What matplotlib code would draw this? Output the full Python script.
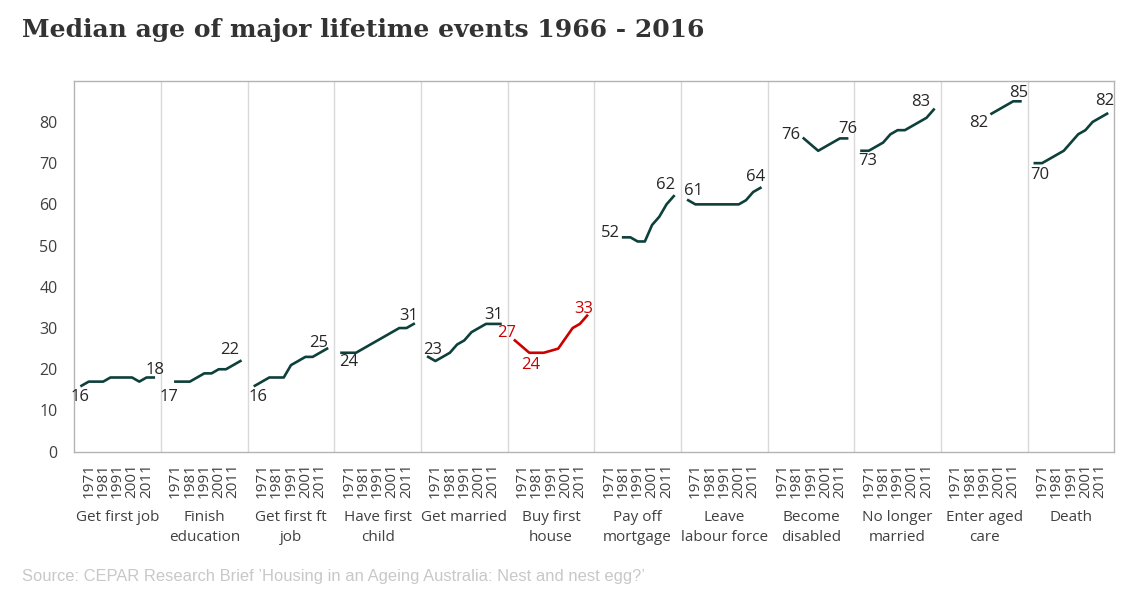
import numpy as np
import matplotlib.pyplot as plt

plt.rcParams['font.family'] = ['Open Sans', 'DejaVu Sans']

# Datos
years = [1966, 1971, 1976, 1981, 1986, 1991, 1996, 2001, 2006, 2011, 2016]
events = ["Get first job", "Finish\neducation", "Get first ft\njob", "Have first\nchild",
          "Get married", "Buy first\nhouse", "Pay off\nmortgage", "Leave\nlabour force",
          "Become\ndisabled", "No longer\nmarried", "Enter aged\ncare", "Death"]
nan = np.nan
get_first_job = [16, 17, 17, 17, 18, 18, 18, 18, 17, 18, 18]
finish_education = [nan, 17, 17, 17, 18, 19, 19, 20, 20, 21, 22]
get_first_ft_job = [16, 17, 18, 18, 18, 21, 22, 23, 23, 24, 25]
have_first_child = [24, 24, 24, 25, 26, 27, 28, 29, 30, 30, 31]
get_married = [23, 22, 23, 24, 26, 27, 29, 30, 31, 31, 31]
buy_first_house = [27, 25.5, 24, 24, 24, 24.5, 25, 27.5, 30, 31, 33]
pay_off_mortgage = [nan, nan, nan, 52, 52, 51, 51, 55, 57, 60, 62]
leave_labour_force = [61, 60, 60, 60, 60, 60, 60, 60, 61, 63, 64]
become_disabled = [nan, nan, nan, nan, 76, 74.5, 73, 74, 75, 76, 76]
no_longer_married = [73, 73, 74, 75, 77, 78, 78, 79, 80, 81, 83]
enter_aged_care = [nan, nan, nan, nan, nan, nan, 82, 83, 84, 85, 85]
death = [70, 70, 71, 72, 73, 75, 77, 78, 80, 81, 82]

series = [get_first_job, finish_education, get_first_ft_job, have_first_child,
          get_married, buy_first_house, pay_off_mortgage, leave_labour_force,
          become_disabled, no_longer_married, enter_aged_care, death]

# puntos con etiqueta (indice dentro del panel)
label_idx = [[0, 10], [1, 10], [0, 10], [0, 10], [0, 10], [0, 2, 10],
             [3, 10], [0, 10], [4, 10], [0, 10], [6, 10], [0, 10]]
# desplazamientos de etiquetas en pixeles
label_off = [[(-1, -11), (1, 7)], [(-6, -15), (-11, 11)], [(3, -11), (-8, 6)],
             [(7, -9), (-5, 8)], [(4, 7), (-7, 9)], [(-8, 7), (1, -12), (-3, 7)],
             [(-13, 4), (-8, 11)], [(5, 9), (-5, 11)], [(-13, 3), (1, 9)],
             [(6, -10), (-13, 8)], [(-13, -9), (-2, 8)], [(5, -12), (-2, 13)]]

dark = '#0e403b'
red = '#cc0000'
txt = '#404040'

fig = plt.figure(figsize=(11.35, 6.02), dpi=100)
ax = fig.add_axes([74.3 / 1135, 1 - 451.7 / 602, 1040 / 1135, 371 / 602])

n = len(years)
width = n + 1
for i, vals in enumerate(series):
    x = np.arange(n) + width * i + 1
    y = np.array(vals, dtype=float)
    col = red if i == 5 else dark
    ax.plot(x, y, color=col, lw=1.9, solid_joinstyle='round')
    for j, (dx, dy) in zip(label_idx[i], label_off[i]):
        ax.annotate(f'{y[j]:.0f}', (x[j], y[j]), textcoords='offset pixels',
                    xytext=(dx, dy), ha='center', va='center', fontsize=12,
                    color=red if i == 5 else '#262626')
    ax.annotate(events[i], xy=(width * i + width / 2, 0), xycoords=('data', 'axes fraction'),
                xytext=(0, -58), textcoords='offset pixels', ha='center', va='top',
                fontsize=11, color=txt, linespacing=1.45)

for i in range(1, len(series)):
    ax.axvline(width * i, color='#d9d9d9', lw=1)

ax.set_xlim(0, width * len(series))
ax.set_ylim(0, 90)
ax.set_yticks(range(0, 81, 10))

tick_pos = []
tick_lab = []
for i in range(len(series)):
    for k in range(1, n, 2):
        tick_pos.append(width * i + 1 + k)
        tick_lab.append(str(years[k]))
ax.set_xticks(tick_pos)
ax.set_xticklabels(tick_lab, rotation=90, fontsize=11, color=txt)
ax.tick_params(axis='x', length=0, pad=8)
ax.tick_params(axis='y', length=0, pad=12, labelsize=11.5, labelcolor=txt)

for s in ax.spines.values():
    s.set_color('#b3b3b3')
    s.set_linewidth(1)

fig.text(22 / 1135, 1 - 30 / 602, 'Median age of major lifetime events 1966 - 2016',
         family='DejaVu Serif', fontweight='bold', fontsize=18, color='#333333', va='center')
fig.text(22 / 1135, 1 - 577 / 602,
         'Source: CEPAR Research Brief \u2019Housing in an Ageing Australia: Nest and nest egg?\u2019',
         family='Liberation Sans', fontsize=11.9, color='#c8c8c8', va='center')

plt.savefig('out.png', dpi=100)
